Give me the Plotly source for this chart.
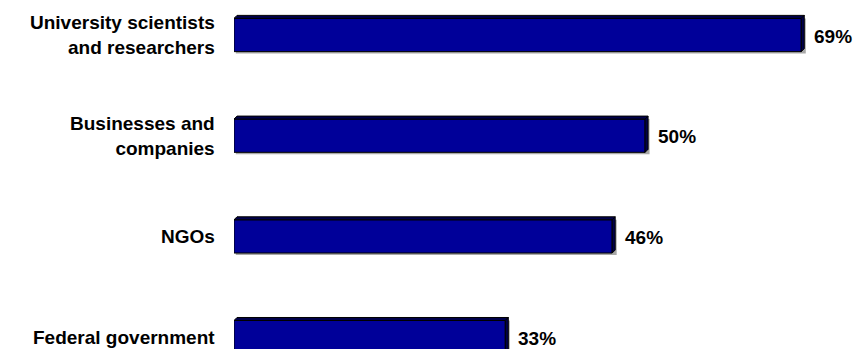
import plotly.graph_objects as go

# Share of respondents naming each group
categories = ["University scientists<br>and researchers", "Businesses and<br>companies", "NGOs", "Federal government"]
values = [69, 50, 46, 33]
value_labels = ["69%", "50%", "46%", "33%"]

positions = list(range(len(categories)))

FRONT = "#000099"
DARK = "#00004A"
SHADOW = "#A8A8A8"
FONT = "Liberation Sans, Arial"

bar_w = 0.33          # bar thickness in category units
x_max = 75.9
px_per_x = 624 / x_max
px_per_y = 100.7
depth_x = 3 / px_per_x  # extrusion depth of the 3-D faces
depth_y = 3 / px_per_y

fig = go.Figure()
fig.add_trace(go.Bar(
    x=values,
    y=positions,
    orientation="h",
    width=bar_w,
    marker=dict(color=FRONT, line=dict(color="#000000", width=1)),
    hoverinfo="skip",
))

shapes = []
for pos, v in zip(positions, values):
    top = pos - bar_w / 2
    bottom = pos + bar_w / 2
    # soft drop shadow along bottom and right edge
    shapes.append(dict(
        type="rect", xref="x", yref="y", layer="below",
        x0=depth_x * 0.6, x1=v + depth_x + 1.5 / px_per_x,
        y0=top, y1=bottom + 2 / px_per_y,
        fillcolor=SHADOW, line=dict(width=0),
    ))
    # top face
    shapes.append(dict(
        type="path", xref="x", yref="y", layer="above",
        path=f"M 0,{top} L {depth_x},{top - depth_y} L {v + depth_x},{top - depth_y} L {v},{top} Z",
        fillcolor=DARK, line=dict(color="#000000", width=1),
    ))
    # right side face
    shapes.append(dict(
        type="path", xref="x", yref="y", layer="above",
        path=f"M {v},{top} L {v + depth_x},{top - depth_y} L {v + depth_x},{bottom - depth_y} L {v},{bottom} Z",
        fillcolor=DARK, line=dict(color="#000000", width=1),
    ))

# Category labels, right-aligned against the bars
for pos, label in zip(positions, categories):
    fig.add_annotation(
        x=0, y=pos, xref="paper", yref="y",
        text="<b>" + label + "</b>",
        xanchor="right", yanchor="middle", align="right",
        xshift=-17, showarrow=False,
        font=dict(family=FONT, size=19, color="#000000"),
    )

# Value labels just past the bar ends
for pos, v, lab in zip(positions, values, value_labels):
    fig.add_annotation(
        x=v, y=pos, xref="x", yref="y",
        text="<b>" + lab + "</b>",
        xanchor="left", yanchor="middle",
        xshift=11, yshift=-1, showarrow=False,
        font=dict(family=FONT, size=19, color="#000000"),
    )

fig.update_layout(
    width=858, height=349,
    margin=dict(l=234, r=0, t=0, b=0),
    paper_bgcolor="white", plot_bgcolor="white",
    showlegend=False,
    shapes=shapes,
)
fig.update_xaxes(range=[0, x_max], visible=False)
fig.update_yaxes(range=[-0.3476 + 349 / px_per_y, -0.3476], visible=False)

fig.write_html("out.html")
